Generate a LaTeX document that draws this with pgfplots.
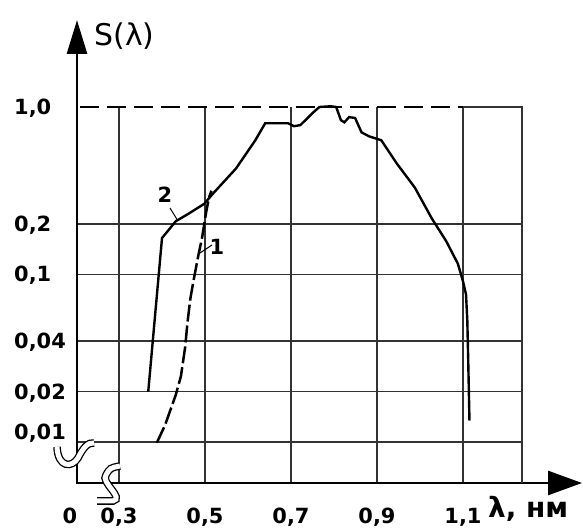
\documentclass[border=0pt]{standalone}
\usepackage{fontspec}
\setmainfont{DejaVu Sans}
\usepackage{pgfplots}
\usepackage{pgfplotstable}
\pgfplotsset{compat=1.18}
\usetikzlibrary{arrows.meta}

% curve 2 (solid)
\pgfplotstableread{
x y
0.368 0.020
0.400 0.165
0.432 0.208
0.461 0.230
0.498 0.264
0.520 0.307
0.572 0.429
0.617 0.633
0.640 0.800
0.693 0.800
0.707 0.768
0.722 0.780
0.750 0.920
0.766 1.000
0.792 1.010
0.805 1.000
0.816 0.835
0.824 0.810
0.835 0.870
0.849 0.860
0.864 0.706
0.881 0.669
0.910 0.633
0.946 0.460
0.988 0.330
1.027 0.217
1.061 0.158
1.088 0.116
1.100 0.091
1.107 0.076
1.110 0.053
1.112 0.0316
1.115 0.0134
}\curvetwo

% curve 1 (dashed)
\pgfplotstableread{
x y
0.388 0.0099
0.407 0.0126
0.432 0.0191
0.444 0.0247
0.454 0.0371
0.459 0.051
0.466 0.072
0.473 0.091
0.485 0.132
0.493 0.165
0.502 0.230
0.509 0.287
0.515 0.316
}\curveone

\begin{document}
\begin{tikzpicture}[x=1bp,y=1bp]
\begin{axis}[
  at={(0,0)}, anchor=south west,
  scale only axis, width=445bp, height=376bp,
  xmin=0.2023, xmax=1.2372,
  ymode=log, ymin=0.00569, ymax=1,
  axis line style={draw=none},
  major tick length=0pt,
  xtick={0.3,0.5,0.7,0.9,1.1},
  xticklabels={{0,3},{0,5},{0,7},{0,9},{1,1}},
  ytick={0.01,0.02,0.04,0.1,0.2},
  yticklabels={\raisebox{10bp}{0,01},{0,02},{0,04},{0,1},{0,2}},
  extra x ticks={0.2023}, extra x tick labels={0},
  extra x tick style={grid=none, xticklabel style={xshift=-7bp}},
  extra y ticks={1}, extra y tick labels={1{,}0},
  extra y tick style={grid=none},
  grid=major, major grid style={black!80, line width=1.3bp},
  xticklabel style={font=\fontsize{21}{21}\selectfont\bfseries, anchor=base, yshift=-40bp, inner sep=0pt},
  yticklabel style={font=\fontsize{21}{21}\selectfont\bfseries, anchor=base west, xshift=-63bp, yshift=-7.5bp, inner sep=0pt},
  clip=false,
]
\addplot[black, line width=2.4bp] table[x=x, y=y] {\curvetwo};
\addplot[black, line width=2.5bp, dash pattern=on 17bp off 4bp] table[x=x, y=y] {\curveone};
\end{axis}

% axes with arrows
\draw[line width=2.8bp, {Triangle[length=34bp,width=24bp]}-{Triangle[length=34bp,width=20bp]}]
  (505,0) -- (0,0) -- (0,463);
% top line and right border
\draw[line width=1.9bp, dash pattern=on 19bp off 8bp] (3,376) -- (386,376);
\draw[line width=1.3bp, black!80] (386,376) -- (445,376) -- (445,0);

% axis breaks
\draw[line width=1.3bp, double=white, double distance=5bp]
  (-20,36) .. controls (-19,15) and (-5,15) .. (1,25) .. controls (6,35) and (11,41) .. (17,40);
\draw[line width=1.3bp, double=white, double distance=5bp]
  (20,-18) -- (36,-18) .. controls (48,-15) and (23,1) .. (29,8) .. controls (33,15) .. (43,17);

% axis titles
\node[font=\fontsize{30}{30}\selectfont, anchor=west] at (14,447) {S(λ)};
\node[font=\fontsize{28}{28}\selectfont\bfseries, anchor=base west, inner sep=0pt] at (411,-35) {λ, нм};

% curve labels
\node[font=\fontsize{21}{21}\selectfont\bfseries] at (88,288) {2};
\draw[line width=1bp] (93,275) -- (101,262);
\node[font=\fontsize{21}{21}\selectfont\bfseries] at (140,236) {1};
\draw[line width=1bp] (123,230) -- (135,238);

\pgfresetboundingbox
\path[use as bounding box] (-77,-46) rectangle (506,483);
\end{tikzpicture}
\end{document}
